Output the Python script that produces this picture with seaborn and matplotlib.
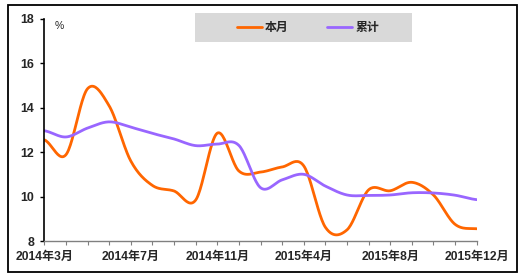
import numpy as np
import pandas as pd
import matplotlib
matplotlib.use("Agg")
import matplotlib.pyplot as plt
from matplotlib.patches import Rectangle
import seaborn as sns

# ---- data ----
months = ["2014年3月", "2014年4月", "2014年5月", "2014年6月", "2014年7月", "2014年8月",
          "2014年9月", "2014年10月", "2014年11月", "2014年12月", "2015年2月", "2015年3月",
          "2015年4月", "2015年5月", "2015年6月", "2015年7月", "2015年8月", "2015年9月",
          "2015年10月", "2015年11月", "2015年12月"]
benyue = [12.55, 11.88, 14.85, 14.08, 11.60, 10.50, 10.25, 9.84, 12.85, 11.15, 11.10,
          11.33, 11.38, 8.62, 8.50, 10.30, 10.26, 10.64, 10.07, 8.75, 8.55]
leiji = [12.96, 12.68, 13.08, 13.36, 13.12, 12.84, 12.59, 12.29, 12.36, 12.30, 10.40,
         10.75, 11.00, 10.47, 10.07, 10.05, 10.07, 10.17, 10.16, 10.06, 9.86]
series_names = ["本月", "累计"]
colors = ["#FF6600", "#9966FF"]
label_every = 4

sns.set_style("white")
plt.rcParams["font.family"] = ["Liberation Sans", "Noto Sans CJK SC", "DejaVu Sans"]


def smooth(values, n=24):
    """Catmull-Rom smoothing like Excel's smoothed line."""
    v = np.asarray(values, dtype=float)
    p = np.r_[v[0], v, v[-1]]
    xs, ys = [], []
    t = np.linspace(0, 1, n, endpoint=False)
    for i in range(len(v) - 1):
        p0, p1, p2, p3 = p[i], p[i + 1], p[i + 2], p[i + 3]
        y = 0.5 * (2 * p1 + (-p0 + p2) * t + (2 * p0 - 5 * p1 + 4 * p2 - p3) * t ** 2
                   + (-p0 + 3 * p1 - 3 * p2 + p3) * t ** 3)
        xs.append(i + t)
        ys.append(y)
    xs.append([len(v) - 1])
    ys.append([v[-1]])
    return np.concatenate(xs), np.concatenate(ys)


W, H = 523, 276
fig = plt.figure(figsize=(W / 100, H / 100), dpi=100)
ax = fig.add_axes([44.3 / W, 35 / H, 432.4 / W, 222.3 / H])
ax.patch.set_visible(False)

# outer border of the chart area
fig.patches.append(Rectangle((8 / W, 4.5 / H), 509 / W, 267 / H, transform=fig.transFigure,
                             fill=False, edgecolor="black", linewidth=1.3, zorder=-2))
# legend background
fig.patches.append(Rectangle((195 / W, (H - 42) / H), 217 / W, 29 / H, transform=fig.transFigure,
                             facecolor="#D9D9D9", edgecolor="none", zorder=-1))

for name, vals, col in zip(series_names, [benyue, leiji], colors):
    sx, sy = smooth(vals)
    df = pd.DataFrame({"x": sx, "y": sy})
    sns.lineplot(data=df, x="x", y="y", ax=ax, color=col, linewidth=2.0,
                 label=name, sort=False, estimator=None)

ax.set_xlim(0, len(months) - 1)
ax.set_ylim(8, 18)
ax.set_yticks(np.arange(8, 19, 2))
ax.set_xticks(np.arange(len(months)))
ax.set_xticklabels([m if i % label_every == 0 else "" for i, m in enumerate(months)])
ax.set_xlabel("")
ax.set_ylabel("")

for s in ["top", "right"]:
    ax.spines[s].set_visible(False)
ax.spines["left"].set_color("black")
ax.spines["left"].set_linewidth(1.2)
ax.spines["bottom"].set_color("#808080")
ax.spines["bottom"].set_linewidth(1.0)

ax.tick_params(axis="y", direction="out", length=3, width=1.0, color="black",
               pad=4.3, labelsize=8.9, left=True)
ax.tick_params(axis="x", direction="out", length=3, width=0.8, color="#808080",
               pad=4, labelsize=8.7, bottom=True)
for lab in ax.get_xticklabels() + ax.get_yticklabels():
    lab.set_fontweight("bold")

ax.text(0.025, 0.99, "%", transform=ax.transAxes, ha="left", va="top", fontsize=7.5)

ax.legend(loc="center", bbox_to_anchor=(308 / W, 1 - 27.5 / H), bbox_transform=fig.transFigure,
          ncol=2, frameon=False, handlelength=2.1, handletextpad=0.25, columnspacing=3.2,
          prop={"family": ["Noto Sans CJK SC"], "weight": "bold", "size": 8.6})

fig.savefig("out.png", dpi=100)
